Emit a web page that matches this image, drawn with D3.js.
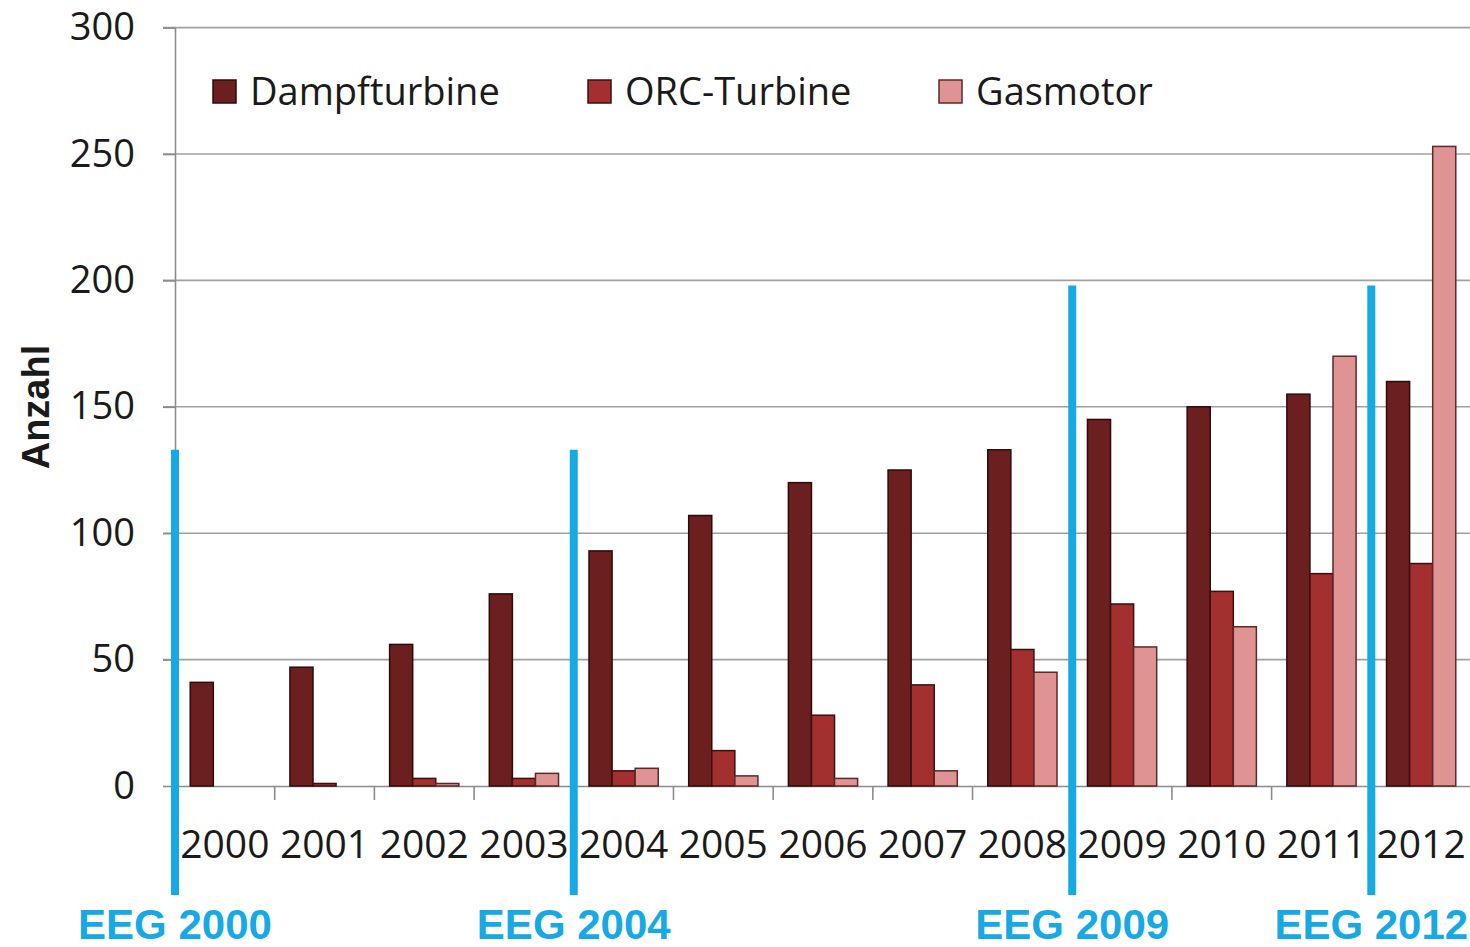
<!DOCTYPE html>
<html>
<head>
<meta charset="utf-8">
<script src="https://cdn.jsdelivr.net/npm/d3@7"></script>
<style>
  html, body { margin: 0; padding: 0; background: #fff; }
  svg { display: block; }
</style>
</head>
<body>
<svg id="chart" width="1470" height="947"></svg>
<script>
// Anlagen nach Technologie, 2000–2012
const years = ["2000","2001","2002","2003","2004","2005","2006","2007","2008","2009","2010","2011","2012"];
const seriesNames = ["Dampfturbine", "ORC-Turbine", "Gasmotor"];
const dampfturbine = [41, 47, 56, 76, 93, 107, 120, 125, 133, 145, 150, 155, 160];
const orcTurbine   = [0, 1, 3, 3, 6, 14, 28, 40, 54, 72, 77, 84, 88];
const gasmotor     = [0, 0, 1, 5, 7, 4, 3, 6, 45, 55, 63, 170, 253];
const yTicks = [0, 50, 100, 150, 200, 250, 300];

// EEG-Novellen: Jahr, Beschriftung, Höhe der Markierung (in Achseneinheiten)
const eegYears  = ["2000", "2004", "2009", "2012"];
const eegLabels = ["EEG 2000", "EEG 2004", "EEG 2009", "EEG 2012"];
const eegTop    = [133, 133, 198, 198];

const colors = ["#6c1f1f", "#a32f2f", "#e09393"];
const strokes = ["#2e0b0b", "#3d1010", "#5a2a2a"];

const svg = d3.select("#chart");
const plotLeft = 175, plotRight = 1471, plotTop = 27.6, plotBottom = 786;

const x0 = d3.scaleBand().domain(years).range([plotLeft, plotRight]).padding(0);
const x1 = d3.scaleBand().domain(seriesNames).range([0, x0.bandwidth()])
  .paddingInner(0).paddingOuter(0.66);
const y = d3.scaleLinear().domain([0, 300]).range([plotBottom, plotTop]);

const seriesValues = [dampfturbine, orcTurbine, gasmotor];

// Gitterlinien
svg.append("g")
  .selectAll("line").data(yTicks.filter(d => d > 0)).join("line")
  .attr("x1", plotLeft - 12).attr("x2", 1470)
  .attr("y1", d => y(d)).attr("y2", d => y(d))
  .attr("stroke", "#a0a0a0").attr("stroke-width", 1.6);

// y-Achse
const yAxis = svg.append("g")
  .attr("transform", `translate(${plotLeft},0)`)
  .call(d3.axisLeft(y).tickValues(yTicks).tickSize(12).tickSizeOuter(0).tickPadding(28));
yAxis.select(".domain").attr("stroke", "#8c8c8c").attr("stroke-width", 1.6);
yAxis.selectAll(".tick line").attr("stroke", "#8c8c8c").attr("stroke-width", 1.6);
yAxis.selectAll(".tick text")
  .attr("font-family", "'Open Sans', sans-serif").attr("font-size", 38)
  .attr("fill", "#1a1a1a");

// x-Achse
const xAxis = svg.append("g")
  .attr("transform", `translate(0,${plotBottom})`)
  .call(d3.axisBottom(x0).tickSize(0).tickPadding(72));
xAxis.select(".domain").attr("stroke", "#8c8c8c").attr("stroke-width", 1.6);
xAxis.selectAll(".tick text")
  .attr("font-family", "'Open Sans', sans-serif").attr("font-size", 39)
  .attr("fill", "#1a1a1a").attr("dy", 0);
// Trennstriche zwischen den Jahren
svg.append("g")
  .selectAll("line").data(years).join("line")
  .attr("x1", d => x0(d)).attr("x2", d => x0(d))
  .attr("y1", plotBottom).attr("y2", plotBottom + 14)
  .attr("stroke", "#8c8c8c").attr("stroke-width", 1.6);

// Balken
const groups = svg.append("g").selectAll("g").data(years).join("g")
  .attr("transform", d => `translate(${x0(d)},0)`);
groups.selectAll("rect")
  .data((d, i) => seriesNames.map((s, k) => ({ s, k, v: seriesValues[k][i] })).filter(e => e.v > 0))
  .join("rect")
  .attr("x", d => x1(d.s))
  .attr("width", x1.bandwidth())
  .attr("y", d => y(d.v))
  .attr("height", d => y(0) - y(d.v))
  .attr("fill", d => colors[d.k])
  .attr("stroke", d => strokes[d.k])
  .attr("stroke-width", 1.5);

// Legende
const legendX = [213, 588, 939];
const legend = svg.append("g").selectAll("g").data(seriesNames).join("g")
  .attr("transform", (d, i) => `translate(${legendX[i]},80)`);
legend.append("rect")
  .attr("width", 23).attr("height", 23)
  .attr("fill", (d, i) => colors[i])
  .attr("stroke", (d, i) => strokes[i]).attr("stroke-width", 1.5);
legend.append("text")
  .attr("x", 37).attr("y", 12).attr("dy", "0.35em")
  .attr("font-family", "'Open Sans', sans-serif").attr("font-size", 38)
  .attr("fill", "#1a1a1a")
  .text(d => d);

// Achsentitel
svg.append("text")
  .attr("transform", `translate(49,407) rotate(-90)`)
  .attr("text-anchor", "middle")
  .attr("font-family", "'Liberation Sans', Arial, sans-serif")
  .attr("font-weight", "bold").attr("font-size", 38)
  .attr("fill", "#1a1a1a")
  .text("Anzahl");

// EEG-Markierungen
const eeg = svg.append("g").selectAll("g").data(eegYears).join("g");
eeg.append("line")
  .attr("x1", d => x0(d)).attr("x2", d => x0(d))
  .attr("y1", (d, i) => y(eegTop[i])).attr("y2", 895)
  .attr("stroke", "#16a9e3").attr("stroke-width", 8);
eeg.append("text")
  .attr("x", d => x0(d)).attr("y", 939)
  .attr("text-anchor", "middle")
  .attr("font-family", "'Liberation Sans', Arial, sans-serif")
  .attr("font-weight", "bold").attr("font-size", 42)
  .attr("fill", "#16a9e3")
  .text((d, i) => eegLabels[i]);
</script>
</body>
</html>
